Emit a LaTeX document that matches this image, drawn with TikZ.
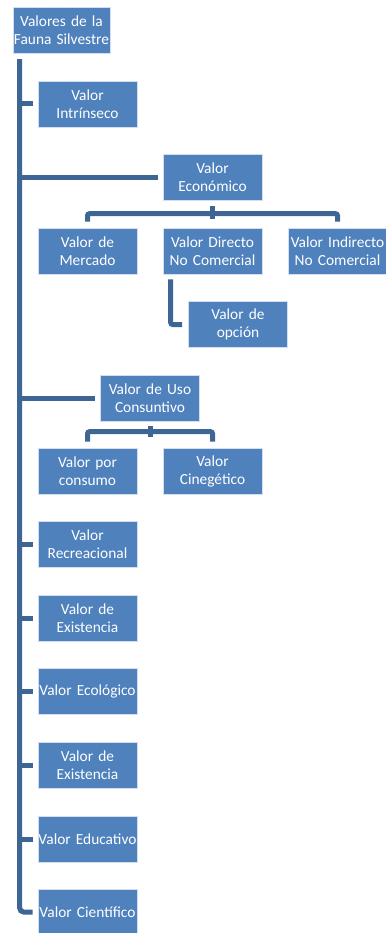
\documentclass[tikz,border=0pt]{standalone}
\usepackage{fontspec}
\setmainfont{Carlito}
\definecolor{boxblue}{RGB}{79,129,189}
\definecolor{linkblue}{RGB}{62,102,148}
\tikzset{
valor/.style={
	  draw=white!75!boxblue, line width=0.6pt, fill=boxblue, text=white,
	    minimum width=99pt, minimum height=46pt, inner sep=0pt,
    text width=99pt, align=center, font=\fontsize{15.4}{18}\selectfont},
link/.style={draw=linkblue, line width=5pt}
}

\begin{document}
\begin{tikzpicture}[x=1pt, y=-1pt]
	\useasboundingbox (0,0) rectangle (385,933);
	\node[valor, minimum width=97pt, text width=97pt] (raiz) at (61.5,30) {Valores de la\\Fauna Silvestre};
	\node[valor] (intr) at (87.5,104) {Valor\\Intrínseco};
	\node[valor] (econ) at (212.5,177.5) {Valor\\Económico};
	\node[valor] (merc) at (87.5,251) {Valor de\\Mercado};
	\node[valor] (dire) at (212.5,251) {Valor Directo\\No Comercial};
	\node[valor] (indi) at (337.5,251) {Valor Indirecto\\No Comercial};
	\node[valor] (opci) at (238,324.5) {Valor de\\opción};
	\node[valor] (uso) at (150,398) {Valor de Uso\\Consuntivo};
	\node[valor] (cons) at (87.5,471) {Valor por\\consumo};
	\node[valor] (cine) at (212.5,471) {Valor\\Cinegético};
	\node[valor] (recr) at (87.5,544) {Valor\\Recreacional};
	\node[valor] (exia) at (87.5,618) {Valor de\\Existencia};
	\node[valor] (ecol) at (87.5,691) {Valor Ecológico};
	\node[valor] (exib) at (87.5,765) {Valor de\\Existencia};
	\node[valor] (educ) at (87.5,839) {Valor Educativo};
	\node[valor] (cien) at (87.5,912) {Valor Científico};
	\coordinate (tronco) at ([xshift=7pt,yshift=-6pt]raiz.south west);
	\draw[link, rounded corners=4pt] (tronco) |- ([xshift=-5pt]cien.west);
	\foreach \v in {intr,econ,uso,recr,exia,ecol,exib,educ}
		\draw[link] (tronco) |- ([xshift=-5pt]\v.west);
	\draw[link] ([yshift=-5pt]econ.south) -- ++(0,13);
	\draw[link, rounded corners=2pt] ([yshift=6pt]merc.north) -- ++(0,-8) -| ([yshift=6pt]indi.north);
	\draw[link, rounded corners=2pt] ([xshift=8pt,yshift=-5pt]dire.south west) |- ([xshift=-6pt]opci.west);
	\draw[link] ([yshift=-5pt]uso.south) -- ++(0,11);
	\draw[link, rounded corners=2pt] ([yshift=6pt]cons.north) -- ++(0,-10) -| ([yshift=6pt]cine.north);
\end{tikzpicture}
\end{document}
